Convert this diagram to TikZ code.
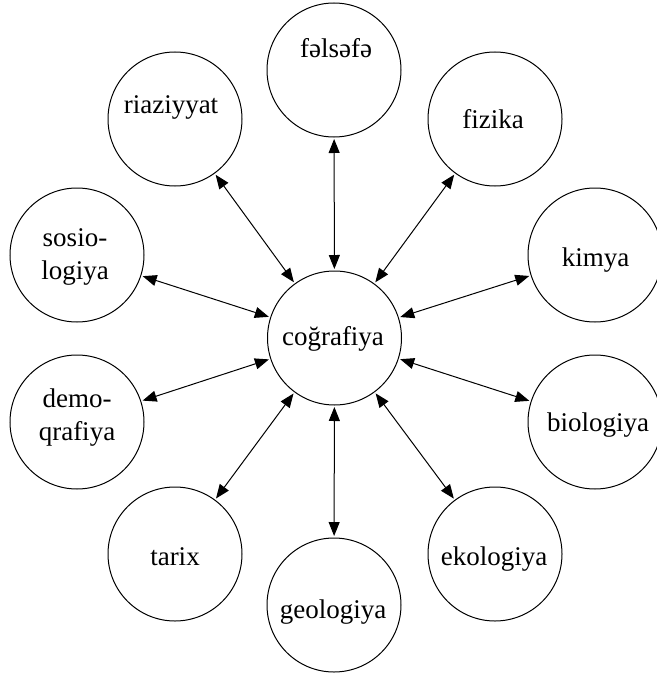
\documentclass[tikz,border=0pt]{standalone}
\usepackage{fontspec}
\setmainfont{Liberation Serif}
\usetikzlibrary{arrows.meta}
\begin{document}
\begin{tikzpicture}[x=1pt,y=-1pt,
  disc/.style={circle, draw, line width=1pt, minimum size=134pt, inner sep=0pt},
  word/.style={anchor=base, inner sep=0pt, font=\fontsize{27}{33}\selectfont, align=center},
  link/.style={{Triangle[length=14pt,width=11pt]}-{Triangle[length=14pt,width=11pt]}, line width=1pt, shorten <=1.5pt, shorten >=1.5pt}]
\useasboundingbox (0,0) rectangle (656,677);

% circles
\node[disc] (cog) at (334.5,338) {};
\node[disc] (fel) at (334,70) {};
\node[disc] (fiz) at (495,119) {};
\node[disc] (kim) at (595,255) {};
\node[disc] (bio) at (595,422) {};
\node[disc] (eko) at (495,554) {};
\node[disc] (geo) at (334,605) {};
\node[disc] (tar) at (175,554) {};
\node[disc] (dem) at (77,422) {};
\node[disc] (sos) at (77,255) {};
\node[disc] (ria) at (175,119) {};

% labels (two-line labels are placed by the baseline of their last line)
\node[word] (tcog) at (333,345) {coğrafiya};
\node[word] (tfel) at (336,58) {fəlsəfə};
\node[word] (tfiz) at (493,128) {fizika};
\node[word] (tkim) at (595.5,266) {kimya};
\node[word] (tbio) at (598,431) {biologiya};
\node[word] (teko) at (494,565) {ekologiya};
\node[word] (tgeo) at (333,618) {geologiya};
\node[word] (ttar) at (175,565) {tarix};
\node[word] (tdem) at (77,440) {demo-\\qrafiya};
\node[word] (tsos) at (75,279) {sosio-\\logiya};
\node[word] (tria) at (171,113) {riaziyyat};

% connectors
\foreach \n in {fel,fiz,kim,bio,eko,geo,tar,dem,sos,ria}
  \draw[link] (cog) -- (\n);
\end{tikzpicture}
\end{document}
